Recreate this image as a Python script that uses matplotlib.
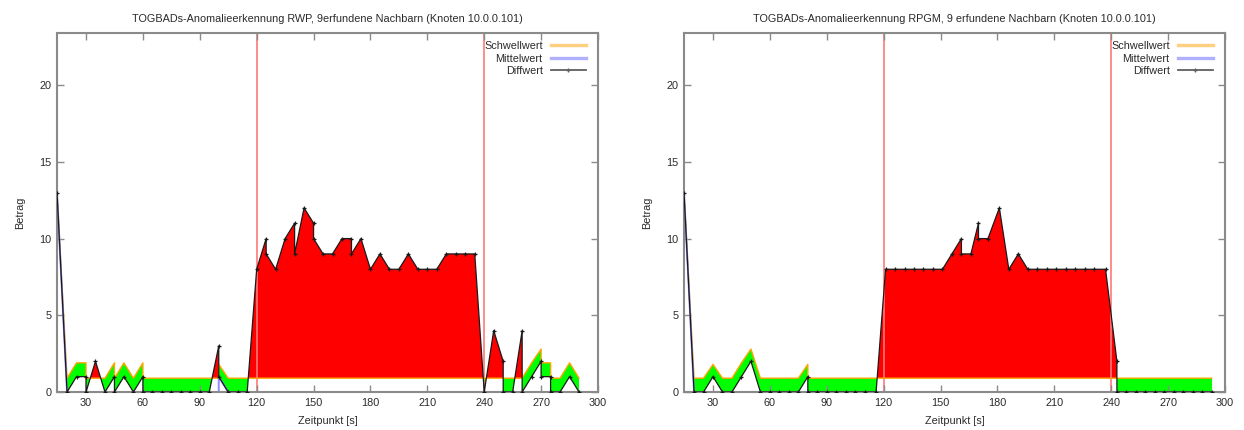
import matplotlib
matplotlib.use('Agg')
import matplotlib.pyplot as plt
from matplotlib.lines import Line2D
import numpy as np

plt.rcParams['font.family'] = ['Liberation Sans', 'DejaVu Sans']

# ---------------- data ----------------
title_rwp = "TOGBADs-Anomalieerkennung RWP, 9erfundene Nachbarn (Knoten 10.0.0.101)"
title_rpgm = "TOGBADs-Anomalieerkennung RPGM, 9 erfundene Nachbarn (Knoten 10.0.0.101)"
x_label = "Zeitpunkt [s]"
y_label = "Betrag"
legend_labels = ["Schwellwert", "Mittelwert", "Diffwert"]
x_ticks = [30, 60, 90, 120, 150, 180, 210, 240, 270, 300]
y_ticks = [0, 5, 10, 15, 20]
attack_marks = [120, 240]

t_rwp = [14.7, 20, 25, 30, 30, 35, 40, 45, 45, 50, 55, 60, 60,
         65, 70, 75, 80, 85, 90, 95,
         100, 100, 105, 110, 115,
         120, 125, 125, 130, 135, 140, 140, 145, 150, 150, 155, 160, 165, 170,
         170, 175, 180, 185, 190, 195, 200, 205, 210, 215, 220, 225, 230, 235,
         240, 245, 250, 250, 255, 260, 260, 265, 270, 270, 275, 275, 280, 285, 290]
diff_rwp = [13, 0, 1, 1, 0, 2, 0, 1, 0, 1, 0, 1, 0,
            0, 0, 0, 0, 0, 0, 0,
            3, 1, 0, 0, 0,
            8, 10, 9, 8, 10, 11, 9, 12, 11, 10, 9, 9, 10, 10,
            9, 10, 8, 9, 8, 8, 9, 8, 8, 8, 9, 9, 9, 9,
            0, 4, 2, 0, 0, 4, 0, 1, 2, 1, 1, 0, 0, 1, 0]
thr_rwp = [13, 0.9, 1.9, 1.9, 0.9, 0.9, 0.9, 1.9, 0.9, 1.9, 0.9, 1.9, 0.9,
           0.9, 0.9, 0.9, 0.9, 0.9, 0.9, 0.9,
           0.9, 1.8, 0.9, 0.9, 0.9,
           0.9, 0.9, 0.9, 0.9, 0.9, 0.9, 0.9, 0.9, 0.9, 0.9, 0.9, 0.9, 0.9, 0.9,
           0.9, 0.9, 0.9, 0.9, 0.9, 0.9, 0.9, 0.9, 0.9, 0.9, 0.9, 0.9, 0.9, 0.9,
           0.9, 0.9, 0.9, 0.9, 0.9, 0.9, 0.9, 1.9, 2.8, 1.9, 1.9, 0.9, 0.9, 1.9, 0.9]
mean_rwp = [13, 0, 0, 0, 0, 0, 0, 0, 0, 0, 0, 0, 0,
            0, 0, 0, 0, 0, 0, 0,
            0, 1, 0, 0, 0,
            0, 0, 0, 0, 0, 0, 0, 0, 0, 0, 0, 0, 0, 0,
            0, 0, 0, 0, 0, 0, 0, 0, 0, 0, 0, 0, 0, 0,
            0, 0, 0, 0, 0, 0, 0, 0, 0, 0, 0, 0, 0, 0, 0]

t_rpgm = [14.7, 20, 25, 30, 35, 40, 45, 50, 55, 60, 65, 70, 75, 80, 80,
          85, 90, 95, 100, 105, 110, 116,
          121, 126, 131, 136, 141, 146, 151, 156, 161, 161, 166, 170, 170,
          175, 181, 186, 191, 196, 201, 206, 211, 216, 221, 226, 231, 237,
          243, 243, 248, 253, 258, 263, 268, 273, 278, 283, 288, 293]
diff_rpgm = [13, 0, 0, 1, 0, 0, 1, 2, 0, 0, 0, 0, 0, 1, 0,
             0, 0, 0, 0, 0, 0, 0,
             8, 8, 8, 8, 8, 8, 8, 9, 10, 9, 9, 11, 10,
             10, 12, 8, 9, 8, 8, 8, 8, 8, 8, 8, 8, 8,
             2, 0, 0, 0, 0, 0, 0, 0, 0, 0, 0, 0]
thr_rpgm = [13, 0.9, 0.9, 1.8, 0.9, 0.9, 1.9, 2.8, 0.9, 0.9, 0.9, 0.9, 0.9, 1.8, 0.9,
            0.9, 0.9, 0.9, 0.9, 0.9, 0.9, 0.9,
            0.9, 0.9, 0.9, 0.9, 0.9, 0.9, 0.9, 0.9, 0.9, 0.9, 0.9, 0.9, 0.9,
            0.9, 0.9, 0.9, 0.9, 0.9, 0.9, 0.9, 0.9, 0.9, 0.9, 0.9, 0.9, 0.9,
            0.9, 0.9, 0.9, 0.9, 0.9, 0.9, 0.9, 0.9, 0.9, 0.9, 0.9, 0.9]
mean_rpgm = [13, 0, 0, 0, 0, 0, 0, 0, 0, 0, 0, 0, 0, 0, 0,
             0, 0, 0, 0, 0, 0, 0,
             0, 0, 0, 0, 0, 0, 0, 0, 0, 0, 0, 0, 0,
             0, 0, 0, 0, 0, 0, 0, 0, 0, 0, 0, 0, 0,
             0, 0, 0, 0, 0, 0, 0, 0, 0, 0, 0, 0]

# ---------------- style ----------------
C_RED = '#ff0000'
C_GREEN = '#00ff00'
C_THR = '#ffa500'
C_MEAN = '#8c8cff'
C_DIFF = '#1a1a1a'
C_MARK = '#ff7878'
C_FRAME = '#8a8a8a'
C_TEXT = '#2a2a2a'
FS = 7.8

W, H = 1244, 430
fig = plt.figure(figsize=(W / 100, H / 100), dpi=100)
fig.patch.set_facecolor('white')

panels = [
    (57, title_rwp, t_rwp, diff_rwp, thr_rwp, mean_rwp),
    (684, title_rpgm, t_rpgm, diff_rpgm, thr_rpgm, mean_rpgm),
]

for left_px, title, t, d, th, m in panels:
    ax = fig.add_axes([left_px / W, 38 / H, 541 / W, 359 / H])
    t = np.asarray(t, float)
    d = np.asarray(d, float)
    th = np.asarray(th, float)
    m = np.asarray(m, float)

    ax.fill_between(t, d, th, where=d >= th, interpolate=True,
                    color=C_RED, lw=0, zorder=1)
    ax.fill_between(t, d, th, where=d <= th, interpolate=True,
                    color=C_GREEN, lw=0, zorder=1)
    for xm in attack_marks:
        ax.axvline(xm, color=C_MARK, lw=1.2, zorder=1.5)
    ax.plot(t, th, color=C_THR, lw=1.0, zorder=2)
    ax.plot(t, m, color=C_MEAN, lw=1.4, zorder=2.1)
    ax.plot(t, d, color=C_DIFF, lw=0.9, marker='+', ms=3.2, mew=0.9, zorder=3)

    ax.set_xlim(14.7, 300)
    ax.set_ylim(0, 23.4)
    ax.set_xticks(x_ticks)
    ax.set_yticks(y_ticks)
    ax.tick_params(direction='in', length=5, width=1, top=True, right=True,
                   color=C_FRAME, labelsize=FS, labelcolor=C_TEXT, pad=4)
    for s in ax.spines.values():
        s.set_color(C_FRAME)
        s.set_linewidth(1.5)
    ax.set_title(title, fontsize=FS, color=C_TEXT, pad=8)
    ax.set_xlabel(x_label, fontsize=FS, color=C_TEXT, labelpad=6)
    ax.set_ylabel(y_label, fontsize=FS, color=C_TEXT, labelpad=10)

    handles = [
        Line2D([0], [0], color='#ffcf80', lw=2.4),
        Line2D([0], [0], color='#b0b0ff', lw=2.4),
        Line2D([0], [0], color='#606060', lw=1.3, marker='+', ms=3.5, mew=1),
    ]
    ax.legend(handles, legend_labels, loc='upper right',
              bbox_to_anchor=(1 - 12 / 541, 1 - 8 / 359), frameon=False,
              markerfirst=False, fontsize=FS, handlelength=3.25,
              handletextpad=0.75, labelspacing=0.24, borderpad=0,
              borderaxespad=0, numpoints=1, labelcolor=C_TEXT)

fig.savefig('out.png', dpi=100, facecolor='white')
